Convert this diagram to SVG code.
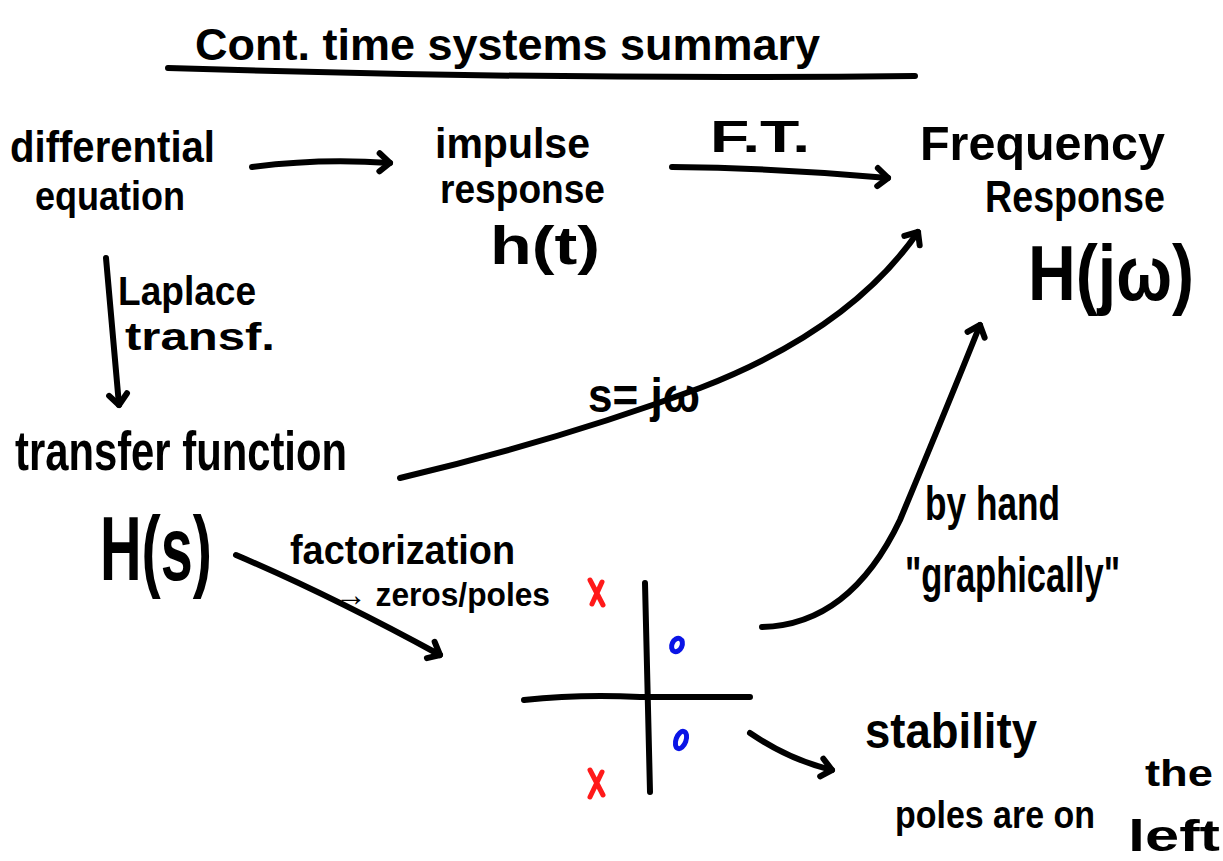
<svg xmlns="http://www.w3.org/2000/svg" width="1223" height="861" viewBox="0 0 1223 861">
<style>
text{font-family:"Liberation Sans","DejaVu Sans Condensed",sans-serif;font-weight:bold;fill:#000}
.ln{fill:none;stroke:#000;stroke-width:6;stroke-linecap:round;stroke-linejoin:round}
.red{fill:none;stroke:#ff1a1a;stroke-width:5;stroke-linecap:round}
.blue{fill:none;stroke:#0a14e6;stroke-width:5}
</style>
<defs>
<marker id="ah" markerUnits="userSpaceOnUse" markerWidth="30" markerHeight="30" refX="0" refY="0" viewBox="-15 -15 30 30" orient="auto" overflow="visible">
<path d="M-11,-9 L0,0 L-10,9" fill="none" stroke="#000" stroke-width="6" stroke-linecap="round" stroke-linejoin="round"/>
</marker>
</defs>
<rect width="1223" height="861" fill="#fff"/>
<g id="title">
<text x="195" y="60" font-size="44" textLength="625" lengthAdjust="spacingAndGlyphs">Cont. time systems summary</text>
<path class="ln" d="M168,68 Q540,80 915,76"/>
</g>
<g id="diffeq">
<text x="10" y="162" font-size="44" textLength="205" lengthAdjust="spacingAndGlyphs">differential</text>
<text x="35" y="210" font-size="40" textLength="150" lengthAdjust="spacingAndGlyphs">equation</text>
</g>
<g id="impulse">
<text x="435" y="158" font-size="42" textLength="155" lengthAdjust="spacingAndGlyphs">impulse</text>
<text x="440" y="203" font-size="40" textLength="165" lengthAdjust="spacingAndGlyphs">response</text>
<text x="490" y="264" font-size="54" textLength="110" lengthAdjust="spacingAndGlyphs">h(t)</text>
</g>
<g id="freq">
<text x="920" y="160" font-size="48" textLength="245" lengthAdjust="spacingAndGlyphs">Frequency</text>
<text x="985" y="212" font-size="44" textLength="180" lengthAdjust="spacingAndGlyphs">Response</text>
<text x="1028" y="300" font-size="78" textLength="166" lengthAdjust="spacingAndGlyphs">H(jω)</text>
</g>
<g id="transfer">
<text x="15" y="470" font-size="56" textLength="332" lengthAdjust="spacingAndGlyphs">transfer function</text>
<text x="100" y="580" font-size="90" textLength="112" lengthAdjust="spacingAndGlyphs">H(s)</text>
</g>
<g id="polezero">
<path class="ln" d="M524,700 Q580,694 640,697 L750,697"/>
<path class="ln" d="M645,583 L650,792"/>
<path class="red" d="M590,580 L603,605 M602,582 L592,604"/>
<path class="red" d="M590,770 L603,795 M602,772 L590,797"/>
<ellipse class="blue" cx="677" cy="645" rx="5" ry="7" transform="rotate(25 677 645)"/>
<ellipse class="blue" cx="681" cy="740" rx="5" ry="9" transform="rotate(20 681 740)"/>
</g>
<g id="stability">
<text x="865" y="748" font-size="50" textLength="172" lengthAdjust="spacingAndGlyphs">stability</text>
<text x="895" y="828" font-size="38" textLength="200" lengthAdjust="spacingAndGlyphs">poles are on</text>
<text x="1145" y="786" font-size="36" textLength="68" lengthAdjust="spacingAndGlyphs">the</text>
<text x="1128" y="851" font-size="44" textLength="92" lengthAdjust="spacingAndGlyphs">left</text>
</g>
<g id="connectors">
<path class="ln" marker-end="url(#ah)" d="M252,167 Q320,158 390,163"/>
<path class="ln" marker-end="url(#ah)" d="M672,167 Q780,168 888,178"/>
<path class="ln" marker-end="url(#ah)" d="M106,258 L119,405"/>
<path class="ln" marker-end="url(#ah)" d="M400,478 Q560,440 700,388 Q850,330 918,232"/>
<path class="ln" marker-end="url(#ah)" d="M236,555 Q330,595 440,655"/>
<path class="ln" marker-end="url(#ah)" d="M762,627 Q850,625 900,520 Q950,400 980,325"/>
<path class="ln" marker-end="url(#ah)" d="M750,733 Q790,760 832,770"/>
</g>
<g id="labels">
<text x="710" y="152" font-size="44" textLength="100" lengthAdjust="spacingAndGlyphs">F.T.</text>
<text x="118" y="305" font-size="40" textLength="138" lengthAdjust="spacingAndGlyphs">Laplace</text>
<text x="125" y="350" font-size="38" textLength="150" lengthAdjust="spacingAndGlyphs">transf.</text>
<text x="588" y="412" font-size="48" textLength="112" lengthAdjust="spacingAndGlyphs">s= jω</text>
<text x="290" y="564" font-size="40" textLength="225" lengthAdjust="spacingAndGlyphs">factorization</text>
<text x="335" y="606" font-size="34" textLength="215" lengthAdjust="spacingAndGlyphs">→ zeros/poles</text>
<text x="925" y="520" font-size="48" textLength="135" lengthAdjust="spacingAndGlyphs">by hand</text>
<text x="905" y="592" font-size="50" textLength="215" lengthAdjust="spacingAndGlyphs">"graphically"</text>
</g>
</svg>
